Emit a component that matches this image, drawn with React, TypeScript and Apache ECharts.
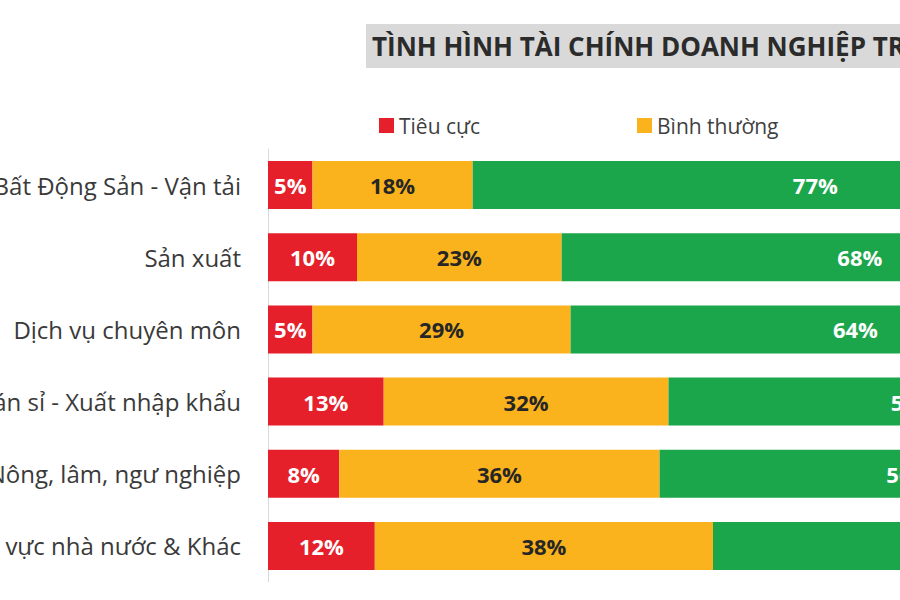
import { useEffect, useRef } from "react";
import * as echarts from "echarts";

const categories = [
  "Bất Động Sản - Vận tải",
  "Sản xuất",
  "Dịch vụ chuyên môn",
  "Bán sỉ - Xuất nhập khẩu",
  "Nông, lâm, ngư nghiệp",
  "Khu vực nhà nước & Khác",
];
const negative = [5, 10, 5, 13, 8, 12];
const normal = [18, 23, 29, 32, 36, 38];
const positive = [77, 68, 64, 55, 56, 50];

const seriesNames = ["Tiêu cực", "Bình thường", "Tích cực"];
const colors = ["#e5202a", "#fab31c", "#1ca64b"];
const labelColors = ["#ffffff", "#262626", "#ffffff"];

const font = "'Open Sans', 'Noto Sans', sans-serif";
// the picture is a crop: the chart sits 100px left of the window
const offset = 100;

export default function App() {
  const reference = useRef<HTMLDivElement>(null);

  useEffect(() => {
    const element = reference.current;
    if (element === null) return;
    const chart = echarts.init(element, undefined, { renderer: "svg" });
    const values = [negative, normal, positive];
    chart.setOption({
      animation: false,
      backgroundColor: "#ffffff",
      color: colors,
      textStyle: { fontFamily: font },
      title: {
        text: "TÌNH HÌNH TÀI CHÍNH DOANH NGHIỆP TRONG NĂM",
        left: 366 + offset,
        top: 24,
        padding: [9, 300, 9, 6],
        backgroundColor: "#d9d9d9",
        textStyle: {
          fontFamily: font,
          fontSize: 26,
          fontWeight: "bold",
          color: "#2b2b2b",
        },
      },
      legend: {
        left: 374 + offset,
        top: 110,
        icon: "rect",
        itemWidth: 15,
        itemHeight: 15,
        itemGap: 157,
        textStyle: { fontFamily: font, fontSize: 21, color: "#3f3f3f" },
        data: seriesNames,
      },
      grid: { left: 268 + offset, right: 42, top: 149, height: 433 },
      xAxis: {
        type: "value",
        min: 0,
        max: 100,
        show: false,
      },
      yAxis: {
        type: "category",
        inverse: true,
        data: categories,
        axisTick: { show: false },
        axisLine: { show: true, lineStyle: { color: "#d9d9d9", width: 1 } },
        axisLabel: {
          margin: 27,
          fontFamily: font,
          fontSize: 24,
          color: "#3a3a3a",
        },
      },
      series: seriesNames.map((name, index) => ({
        name,
        type: "bar",
        stack: "total",
        barWidth: 48,
        data: values[index],
        label: {
          show: true,
          position: "inside",
          formatter: "{c}%",
          fontFamily: font,
          fontSize: 22,
          fontWeight: "bold",
          color: labelColors[index],
        },
      })),
    });
    return () => {
      chart.dispose();
    };
  }, []);

  return (
    <div
      style={{
        position: "fixed",
        left: 0,
        top: 0,
        width: 900,
        height: 600,
        overflow: "hidden",
        background: "#ffffff",
      }}
    >
      <div
        ref={reference}
        style={{
          position: "absolute",
          left: -offset,
          top: 0,
          width: 1300,
          height: 600,
        }}
      />
    </div>
  );
}
